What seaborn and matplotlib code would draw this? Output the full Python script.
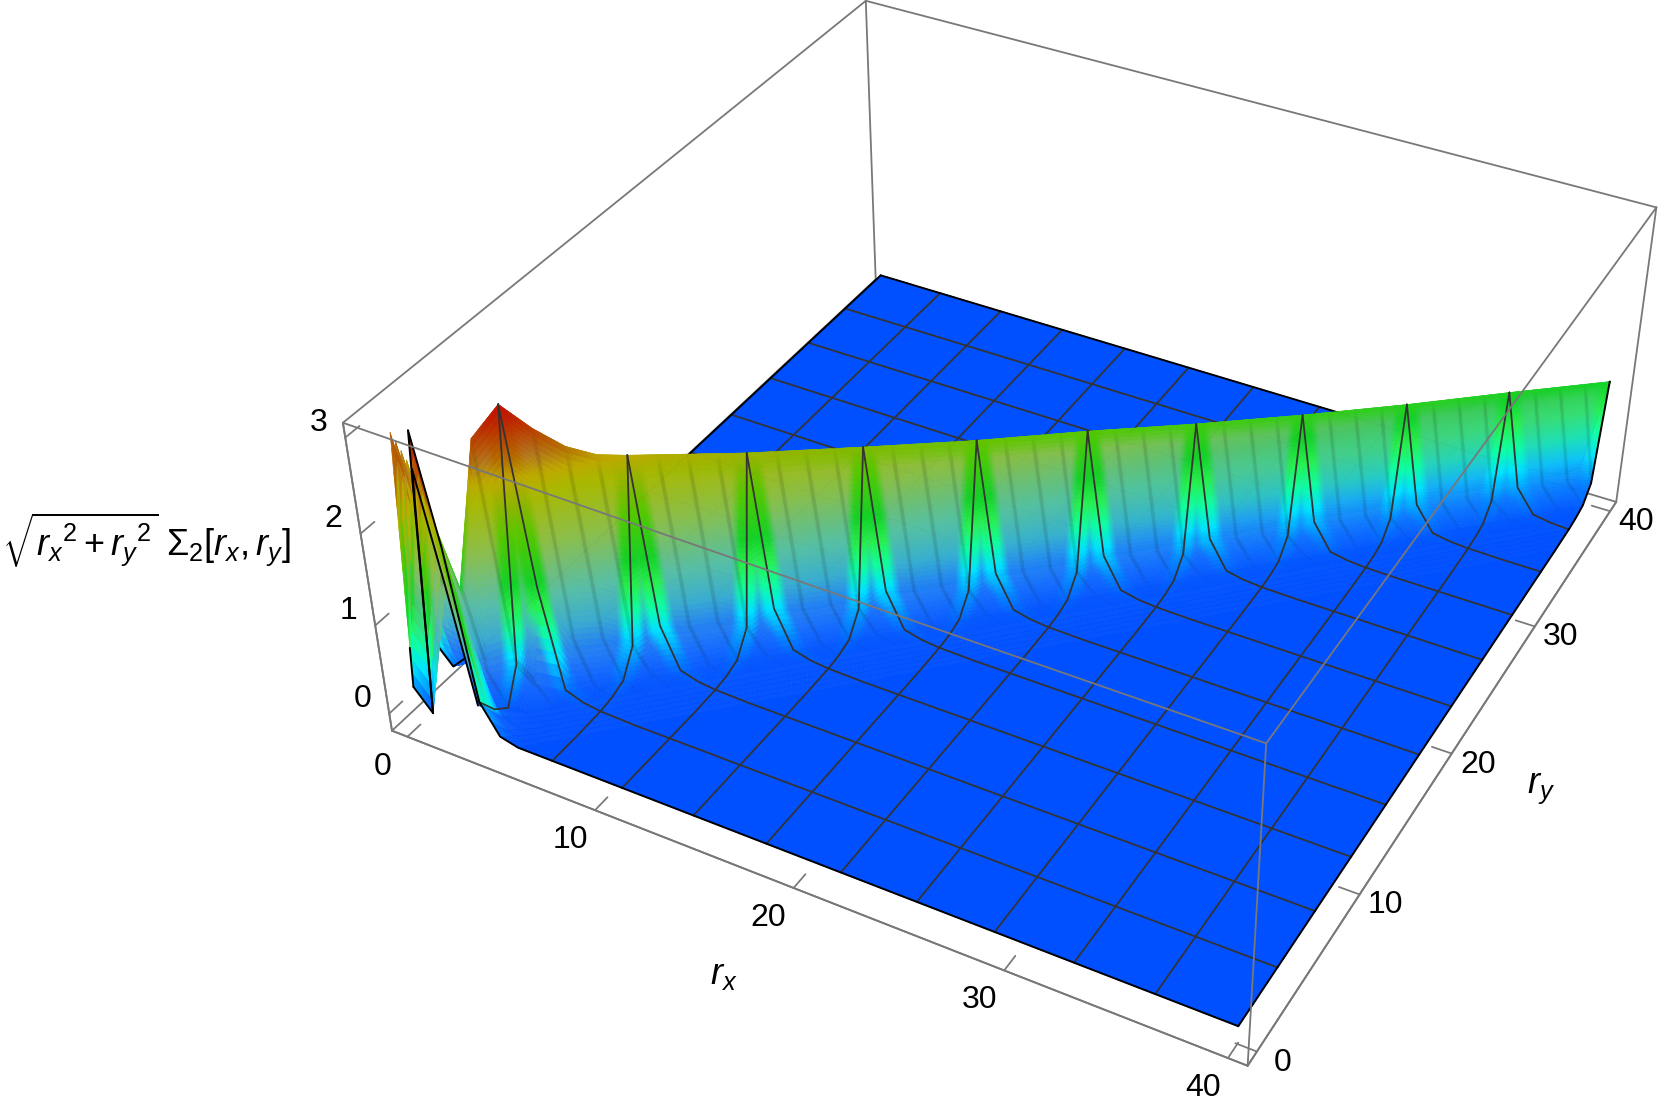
import numpy as np
import matplotlib
matplotlib.use('Agg')
import matplotlib.pyplot as plt
import seaborn as sns
from matplotlib.colors import LinearSegmentedColormap
from mpl_toolkits.mplot3d import proj3d
from mpl_toolkits.mplot3d.art3d import Poly3DCollection

# ---- data ----
ridge_s = [0, .909, 1.818, 2.727, 3.636, 4.545, 5.455, 6.364, 7.273, 10.91, 14.55, 18.18, 21.82, 25.45, 29.09, 32.73, 36.36, 40]
ridge_z = [.25, 2.57, 1.24, 2.78, 3.08, 2.78, 2.54, 2.40, 2.34, 2.15, 2.00, 1.86, 1.75, 1.62, 1.51, 1.42, 1.35, 1.27]
profile_d = [0, .909, 1.818, 2.727, 3.636, 5.455, 60]
profile_p = [1, .22, .04, .015, .005, 0, 0]
first_off_factor = [1.05, .95, .95, .7]
corner_z = [[.25, .02, 3.15, 2.0, .37, .05],
            [2.89, 2.57, 1.39, .12, .15, .06],
            [.48, 1.0, 1.24, .35, .03, .05],
            [.08, .2, .3, 2.78, .4, .25],
            [.05, .1, .2, .6, 3.08, 1.2],
            [0, 0, .1, .2, .6, 2.78]]
glow_z = [0, .2, .5, .75, 1.0, 1.27, 1.75, 2.0, 2.34, 2.54, 2.96, 3.08, 3.2]
glow_rgb = ['#0050ff', '#0080ff', '#00e6ff', '#10ffa0', '#28f050', '#14d228', '#55c800', '#82b900', '#beaa00', '#b46e00', '#be1e00', '#c80f00', '#c80f00']
muted_z = [0, .2, .47, .72, 1.08, 1.61, 2.15, 2.34, 2.54, 2.96, 3.08, 3.2]
muted_rgb = ['#0050ff', '#1064ff', '#2882f0', '#3caad2', '#5abeaa', '#8cbe50', '#aab900', '#beaa00', '#b47820', '#be1e00', '#c81400', '#c81400']
glow_phase = [0, .06, .13, .87, .94, 1]
glow_weight = [0, 0, 1, 1, 0, 0]
streak_phase = [0, .225, .25, .275, .475, .5, .525, .725, .75, .775, 1]
streak_depth = [0, 0, 1, 0, 0, 1, 0, 0, 1, 0, 0]
rx_ticks = [0, 10, 20, 30, 40]
ry_ticks = [0, 10, 20, 30, 40]
z_ticks = [0, 1, 2, 3]
x_limits = (-.85, 40.85)
y_limits = (-.85, 40.85)
z_limits = (-.2, 3.15)

sns.set_theme(style='white')
plt.rcParams['font.family'] = ['Liberation Sans', 'DejaVu Sans']
plt.rcParams['mathtext.fontset'] = 'custom'
plt.rcParams['mathtext.rm'] = 'Liberation Sans'
plt.rcParams['mathtext.it'] = 'Liberation Sans:italic'
plt.rcParams['mathtext.bf'] = 'Liberation Sans:bold'

GRAY = '#787878'
n = 44
h = 40 / n
xc = np.arange(n + 1) * h

XX, YY = np.meshgrid(xc, xc, indexing='ij')
Zc = np.interp((XX + YY) / 2, ridge_s, ridge_z) * np.interp(np.abs(XX - YY), profile_d, profile_p)
for i in range(n):
    f = first_off_factor[i % 4]
    Zc[i + 1, i] *= f
    Zc[i, i + 1] *= f
for j, row in enumerate(corner_z):
    for i, v in enumerate(row):
        Zc[i, j] = v

def surf(x, y):
    tx = np.clip(x / h, 0, n); ty = np.clip(y / h, 0, n)
    i = np.minimum(np.floor(tx + 1e-9).astype(int), n - 1); j = np.minimum(np.floor(ty + 1e-9).astype(int), n - 1)
    u = tx - i; v = ty - j
    a, b, c, d = Zc[i, j], Zc[i + 1, j], Zc[i, j + 1], Zc[i + 1, j + 1]
    z = np.where(u >= v, a + u * (b - a) + v * (d - b), a + v * (c - a) + u * (d - c))
    za = np.where(u + v <= 1, a + u * (b - a) + v * (c - a), d + (1 - u) * (c - d) + (1 - v) * (b - d))
    return np.where((i == 0) & (j == 0), za, z)

zmax = 3.2
cmap_glow = LinearSegmentedColormap.from_list('glow', [(z / zmax, c) for z, c in zip(glow_z, glow_rgb)], N=512)
cmap_muted = LinearSegmentedColormap.from_list('muted', [(z / zmax, c) for z, c in zip(muted_z, muted_rgb)], N=512)

def quads(a_levels, d_levels, is_front):
    A, D = np.meshgrid(a_levels, d_levels, indexing='ij')
    far = np.minimum(A + D, 40.)
    X, Y = (far, A) if is_front else (A, far)
    Z = surf(X, Y)
    P = np.stack([X, Y, Z], axis=-1)
    v = np.stack([P[:-1, :-1], P[1:, :-1], P[1:, 1:], P[:-1, 1:]], axis=2).reshape(-1, 4, 3)
    ka = (A[:-1, :-1] + A[1:, :-1]).ravel() / 2
    kd = (D[:-1, :-1] + D[:-1, 1:]).ravel() / 2
    keep = (A[:-1, :-1] + D[:-1, :-1]).ravel() < 40
    v, ka, kd = v[keep], ka[keep], kd[keep]
    zm = v[:, :, 2].mean(1)
    t = np.clip(zm / zmax, 0, 1)
    top = np.clip(kd / .12, 0, 1)
    ph = (ka / (4 * h)) % 1
    ph_far = ((ka + kd) / (4 * h)) % 1
    w = np.minimum(np.interp(ph, glow_phase, glow_weight), np.interp(ph_far, glow_phase, glow_weight))
    w = w * np.interp(ka, [0, 22, 40], [1, .9, .3]) * top
    c = cmap_glow(t) * (1 - w[:, None]) + cmap_muted(t) * w[:, None]
    dark = .17 * np.interp(ph, streak_phase, streak_depth) * top * np.clip(zm / .25, 0, 1)
    c[:, :3] = c[:, :3] * (1 - dark[:, None])
    return v, np.clip(c, 0, 1)

band_d = np.r_[np.linspace(0, h, 33), np.linspace(h, 3 * h, 17)[1:], np.linspace(3 * h, 6 * h, 7)[1:]]
rest_d = np.arange(6, n + 1) * h
fine_a = np.arange(n * 16 + 1) * h / 16
mid_a = np.arange(n * 4 + 1) * h / 4

fig = plt.figure(figsize=(16.61, 11.13), dpi=100)
S = 1700.; cx = 1009.479; cy = 488.5996
ax = fig.add_axes([(cx - S / 2) / 1661, (1113 - cy - S / 2) / 1113, S / 1661, S / 1113], projection='3d', computed_zorder=False)
ax.patch.set_alpha(0)
ax.set_autoscale_on(False)
ax.set_xlim(*x_limits, view_margin=0)
ax.set_ylim(*y_limits, view_margin=0)
ax.set_zlim(*z_limits, view_margin=0)
ax.view_init(36.2149, -61.5234, .0304)
ax.set_proj_type('persp', focal_length=float(np.exp(-1.0715)))
ax.set_box_aspect((1, 1, .3999), zoom=.7827)

for (alev, dlev, is_front, zo, lw) in [(xc, rest_d, False, 1, .8), (mid_a, band_d, False, 1.1, .4),
                                       (xc, rest_d, True, 3, .8), (fine_a, band_d, True, 3.1, .4)]:
    v, c = quads(alev, dlev, is_front)
    ax.add_collection3d(Poly3DCollection(v, facecolors=c, edgecolors=c, linewidths=lw, zorder=zo))

mesh = '#333333'
for k in range(1, 11):
    ik = 4 * k
    ax.plot(xc[:ik + 1] * 0 + xc[ik], xc[:ik + 1], Zc[ik, :ik + 1], color=mesh, lw=1.3, zorder=4)
    ax.plot(xc[ik:], xc[ik:] * 0 + xc[ik], Zc[ik:, ik], color=mesh, lw=1.3, zorder=4)
    ax.plot(xc[ik:] * 0 + xc[ik], xc[ik:], Zc[ik, ik:], color=mesh, lw=1.3, zorder=2)
    ax.plot(xc[:ik + 1], xc[:ik + 1] * 0 + xc[ik], Zc[:ik + 1, ik], color=mesh, lw=1.3, zorder=2)
ax.plot(xc, xc * 0, Zc[:, 0], color='black', lw=1.4, zorder=4)
ax.plot(xc * 0 + 40, xc, Zc[-1, :], color='black', lw=1.4, zorder=4)
ax.plot(xc[2:] * 0, xc[2:], Zc[0, 2:], color='black', lw=1.4, zorder=2)
ax.plot(xc, xc * 0 + 40, Zc[:, -1], color='black', lw=1.4, zorder=2)
ax.plot(xc[1:2].repeat(2), xc[:2], Zc[1, :2], color='black', lw=1.4, zorder=4)
ax.plot(xc[1:4], xc[1:4] * 0 + xc[1], Zc[1:4, 1], color='black', lw=1.4, zorder=4)
y_stub = np.array([0, .16]) * h
ax.plot(y_stub * 0, y_stub, surf(y_stub * 0, y_stub), color='black', lw=1.4, zorder=4)

# box edges
x0, x1 = x_limits; y0, y1 = y_limits; z0, z1 = z_limits
back = [([x0, x1], [y0, y0], [z0, z0]), ([x1, x1], [y0, y1], [z0, z0]), ([x0, x0], [y0, y1], [z0, z0]), ([x0, x1], [y1, y1], [z0, z0]),
        ([x0, x0], [y0, y0], [z0, z1]), ([x0, x0], [y1, y1], [z0, z1]), ([x1, x1], [y1, y1], [z0, z1]),
        ([x0, x0], [y0, y1], [z1, z1]), ([x0, x1], [y1, y1], [z1, z1])]
for e in back:
    ax.plot(*e, color=GRAY, lw=1.3, zorder=.5)
for e in [([x0, x1], [y0, y0], [z1, z1]), ([x1, x1], [y0, y1], [z1, z1]), ([x1, x1], [y0, y0], [z0, z1])]:
    ax.plot(*e, color=GRAY, lw=1.3, zorder=6)

for axis in (ax.xaxis, ax.yaxis, ax.zaxis):
    axis.pane.set_facecolor((1, 1, 1, 0))
    axis.pane.set_edgecolor((1, 1, 1, 0))
    axis.line.set_color(GRAY)
    axis.line.set_linewidth(1.3)
    axis._axinfo['tick'].update(inward_factor=0, outward_factor=.28)
ax.grid(False)
ax.set_xticks(rx_ticks); ax.set_yticks(ry_ticks); ax.set_zticks(z_ticks)
ax.set_xticklabels([''] * len(rx_ticks)); ax.set_yticklabels([''] * len(ry_ticks)); ax.set_zticklabels([''] * len(z_ticks))
ax.tick_params(axis='both', color=GRAY, width=1.3)
ax.tick_params(axis='z', color=GRAY, width=1.3)
ax.zaxis.set_ticks_position('lower')
ax.set_xlim(*x_limits, view_margin=0); ax.set_ylim(*y_limits, view_margin=0); ax.set_zlim(*z_limits, view_margin=0)

def tick_text(x, y, z, s, off):
    px, py, _ = proj3d.proj_transform(x, y, z, ax.get_proj())
    ax.annotate(s, (px, py), xytext=off, textcoords='offset pixels', ha='center', va='center',
                fontsize=23, color='black', annotation_clip=False)
for t in rx_ticks:
    tick_text(t, y0, z0, str(t), (-25, -30))
for t in ry_ticks:
    tick_text(x1, t, z0, str(t), (26, -11))
for t in z_ticks:
    tick_text(x0, y0, t, str(t), (-27, 15))

fig.text(724 / 1661, 1 - 974 / 1113, '$r_x$', fontsize=26, ha='center', va='center', color='black')
fig.text(1541 / 1661, 1 - 789 / 1113, '$r_y$', fontsize=26, ha='center', va='center', color='black')
fig.text(146 / 1661, 1 - 540 / 1113, r'$\sqrt{r_x{}^{2}+r_y{}^{2}}\ \Sigma_2[r_x,r_y]$', fontsize=26, ha='center', va='center', color='black')
fig.savefig('out.png', dpi=100)
